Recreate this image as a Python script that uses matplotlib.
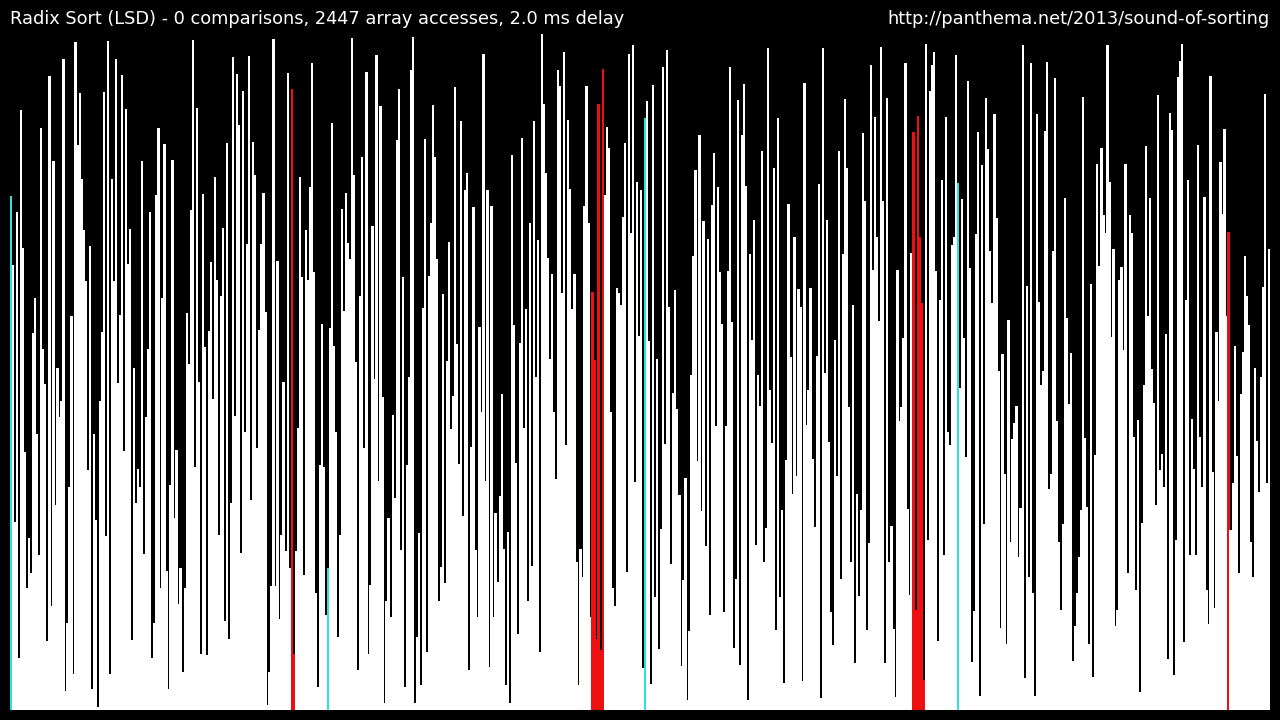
import numpy as np
import matplotlib
matplotlib.use("Agg")
import matplotlib.pyplot as plt

# bar heights (pixels above the floor), read left to right in strips of the frame
strip1 = [514, 445, 188, 498, 52, 600, 462, 258, 122, 172, 137, 377, 412, 276, 155, 582, 361, 326, 69, 634,
          104, 549, 205, 342, 293, 309, 651, 19, 87, 223, 394, 36, 668, 565, 617, 531, 480, 429, 240, 464,
          21, 276, 190, 3, 309, 378, 618, 174, 669, 36, 531, 429, 651, 327, 395, 635, 259, 601, 446, 481,
          70, 342, 207, 241, 223, 549, 156, 293, 361, 498, 52, 87, 515, 582, 122]
strip2 = [412, 566, 139, 21, 225, 550, 192, 260, 106, 142, 38, 122, 397, 346, 500, 670, 243, 602, 328, 56,
          516, 363, 55, 379, 448, 311, 533, 430, 175, 414, 482, 89, 567, 71, 207, 653, 294, 636, 585, 157,
          619, 278, 466, 654, 210, 568, 535, 262, 380, 466, 517, 398, 5, 38, 124, 671, 124, 449, 91, 175,
          328, 159, 637, 142, 621, 56, 159, 282, 533, 433, 135, 480, 430, 523, 647, 438, 117, 23, 245]
strip3 = [386, 243, 95, 142, 382, 587, 364, 278, 73, 175, 501, 399, 517, 467, 451, 672, 535, 348, 40, 414,
          553, 262, 638, 56, 125, 484, 331, 655, 229, 604, 313, 7, 109, 192, 93, 295, 212, 570, 621, 160,
          433, 23, 245, 333, 640, 673, 7, 73, 177, 25, 402, 571, 58, 434, 487, 605, 553, 451, 109, 143,
          416, 127, 349, 468, 281, 314, 623, 366, 246, 589, 194, 520, 537, 40, 263, 503, 160, 93, 383]
strip4 = [298, 656, 229, 520, 43, 504, 93, 197, 128, 214, 316, 161, 25, 178, 7, 555, 385, 247, 76, 367,
          572, 282, 401, 109, 487, 144, 589, 333, 470, 58, 676, 606, 537, 452, 351, 436, 298, 231, 640, 624,
          417, 658, 265, 590, 521, 401, 436, 148, 25, 161, 133, 504, 624, 487, 93, 418, 350, 71, 606, 60,
          641, 515, 583, 562, 298, 122, 104, 422, 417, 405, 493, 567, 138, 656, 477, 665, 228, 528, 374]
strip5 = [520, 42, 592, 609, 369, 26, 625, 113, 351, 61, 181, 643, 266, 660, 403, 146, 317, 420, 301, 215,
          44, 130, 232, 10, 79, 335, 454, 540, 249, 575, 199, 489, 164, 471, 95, 505, 557, 284, 523, 438,
          386, 98, 284, 439, 643, 388, 62, 131, 610, 45, 575, 626, 524, 10, 456, 370, 490, 165, 335, 304,
          559, 148, 182, 662, 320, 267, 542, 80, 592, 113, 200, 27, 250, 506, 353, 216, 473, 234, 421]
strip6 = [403, 29, 627, 285, 320, 422, 251, 183, 354, 526, 12, 662, 337, 490, 268, 98, 65, 370, 234, 559,
          131, 456, 611, 542, 303, 148, 405, 47, 216, 114, 200, 577, 509, 80, 167, 645, 440, 593, 473, 389,
          663, 509, 47, 612, 148, 184, 81, 13, 440, 289, 303, 372, 647, 201, 115, 457, 578, 100, 594, 473,
          407, 30, 666, 170, 619, 645, 658, 439, 69, 410, 530, 155, 593, 278, 265, 465, 473, 655, 527]
strip7 = [322, 511, 372, 253, 629, 442, 48, 99, 476, 578, 14, 545, 186, 612, 561, 459, 407, 596, 492, 339,
          82, 356, 236, 66, 390, 168, 271, 287, 304, 153, 202, 665, 32, 424, 133, 647, 117, 14, 596, 408,
          325, 339, 579, 648, 221, 236, 459, 632, 289, 168, 100, 186, 512, 392, 306, 357, 49, 84, 117, 153,
          200, 613, 272, 203, 66, 426, 33, 255, 546, 444, 562, 495, 477, 665, 528, 373, 461, 84, 100]
strip8 = [430, 443, 360, 546, 137, 495, 477, 273, 120, 290, 18, 187, 325, 564, 394, 512, 341, 307, 205, 615,
          240, 256, 223, 376, 51, 597, 580, 35, 170, 633, 649, 666, 68, 410, 530, 155, 291, 241, 155, 565,
          273, 223, 513, 120, 86, 634, 238, 102, 378, 309, 548, 496, 581, 394, 478, 180, 227, 364, 254, 137,
          316, 358, 454, 414, 385, 168, 133, 342, 269, 218, 333, 423, 616, 227, 461]

red_idx = [139, 140, 288, 289, 290, 291, 292, 293, 447, 448, 449, 450, 451, 452, 603]
cyan_idx = [0, 157, 314, 469]

title_left = "Radix Sort (LSD) - 0 comparisons, 2447 array accesses, 2.0 ms delay"
title_right = "http://panthema.net/2013/sound-of-sorting"

values = np.array(strip1 + strip2 + strip3 + strip4 + strip5 + strip6 + strip7 + strip8)
n = len(values)
colors = ["white"] * n
for i in red_idx:
    colors[i] = "#ee1010"
for i in cyan_idx:
    colors[i] = "#30e0e0"

fig = plt.figure(figsize=(12.8, 7.2), dpi=100, facecolor="black")
ax = fig.add_axes([10 / 1280, 10 / 720, 1260 / 1280, 676 / 720])
ax.set_facecolor("black")
# slightly overlapping bars so no pixel seams appear between neighbours
ax.bar(np.arange(n), values, width=1.12, color=colors, linewidth=0, antialiased=False)
ax.set_xlim(-0.5, n - 0.5)
ax.set_ylim(0, 676)
ax.axis("off")

fig.text(10 / 1280, 1 - 19 / 720, title_left, color="white", fontsize=12.8,
         ha="left", va="center", family="DejaVu Sans")
fig.text(1270 / 1280, 1 - 19 / 720, title_right, color="white", fontsize=12.8,
         ha="right", va="center", family="DejaVu Sans")

fig.savefig("out.png", dpi=100, facecolor="black")
